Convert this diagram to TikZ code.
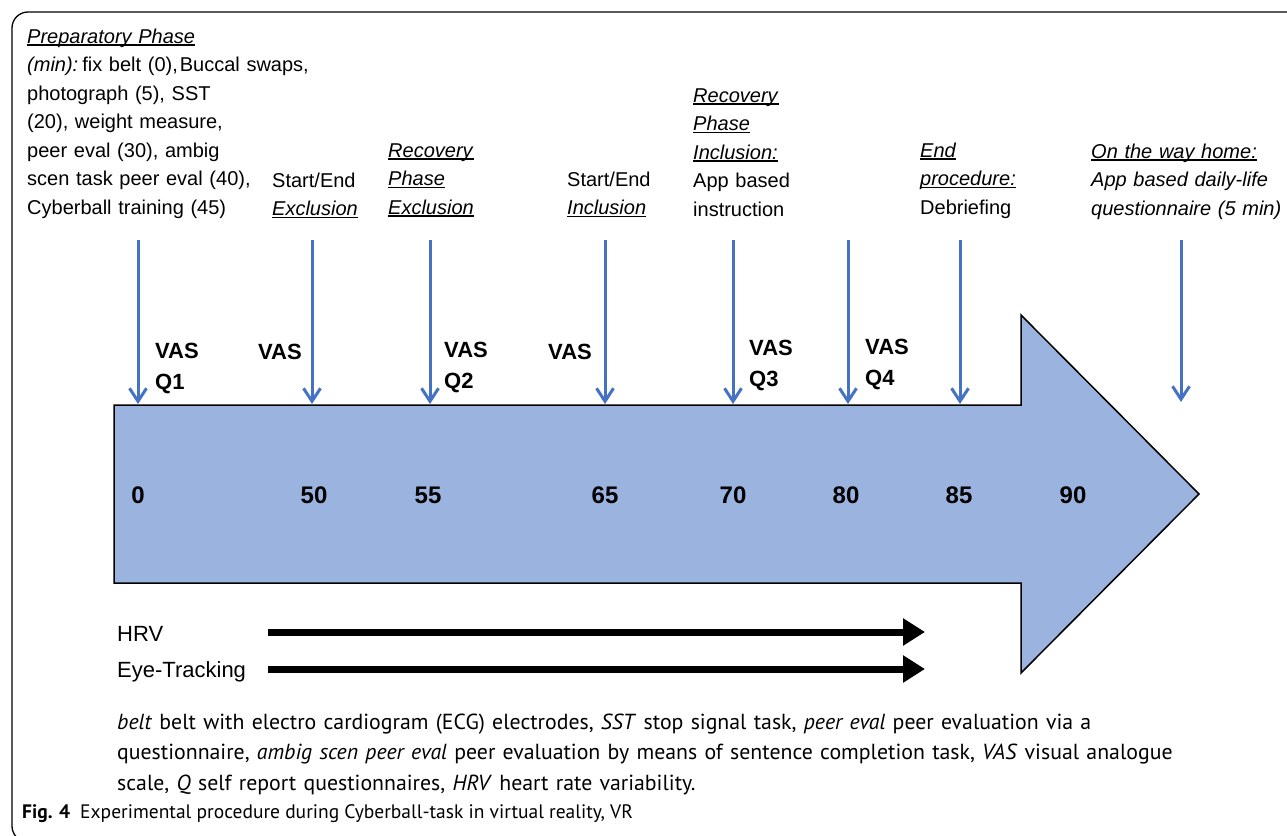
\documentclass[tikz,border=0pt]{standalone}
\usepackage{fontspec}
\setmainfont{Liberation Sans}
\newfontfamily\capfont{PT Sans}
\usetikzlibrary{arrows.meta}
\definecolor{arrowfill}{RGB}{155,179,223}
\definecolor{vblue}{RGB}{68,114,196}
\newcommand\myul[1]{\leavevmode\setbox0\hbox{#1}\rlap{\rule[-2.6pt]{\wd0}{1.3pt}}\box0}
\tikzset{
  toptext/.style={anchor=base west, inner sep=0pt, text width=400pt, align=left, font=\fontsize{20}{28.5}\selectfont},
  vas/.style={anchor=base west, inner sep=0pt, text width=60pt, align=left, font=\fontsize{22}{31}\selectfont\bfseries},
  vasr/.style={anchor=base east, inner sep=0pt, font=\fontsize{22}{31}\selectfont\bfseries},
  num/.style={inner sep=0pt, font=\fontsize{24}{28}\selectfont\bfseries},
  cue/.style={draw=vblue, line width=3pt, -{Straight Barb[length=13pt,width=17pt]}},
  track/.style={line width=7pt, -{Triangle[length=22pt,width=26pt]}},
  lbl/.style={anchor=base west, inner sep=0pt, font=\fontsize{22}{28}\selectfont},
  captext/.style={anchor=base west, inner sep=0pt, text width=1165pt, align=left, font=\capfont\fontsize{21.8}{30.5}\selectfont},
}
\begin{document}
\begin{tikzpicture}[x=1pt,y=-1pt]
\useasboundingbox (0,0) rectangle (1287,835);
% frame
\draw[line width=1.3pt, rounded corners=16pt] (1300,12) -- (12,12) -- (12,842) -- (60,842);
% big arrow
\draw[fill=arrowfill, line width=1.5pt] (114,405) -- (1021,405) -- (1021,315) -- (1199,494) -- (1021,673) -- (1021,583) -- (114,583) -- cycle;
% top texts
\node[toptext] (tA) at (27,43) {\myul{\textit{Preparatory Phase}}\\
\textit{(min):}\hspace{4pt}fix belt (0),\hspace{2pt}Buccal swaps,\\
photograph (5), SST\\
(20), weight measure,\\
peer eval (30), ambig\\
scen task peer eval (40),\\
Cyberball training (45)};
\node[toptext] (tB) at (272,187) {Start/End\\ \myul{\textit{Exclusion}}};
\node[toptext] (tC) at (388,157) {\myul{\textit{Recovery}}\\ \myul{\textit{Phase}}\\ \myul{\textit{Exclusion}}};
\node[toptext] (tD) at (567,186) {Start/End\\ \myul{\textit{Inclusion}}};
\node[toptext] (tE) at (693,102) {\myul{\textit{Recovery}}\\ \myul{\textit{Phase}}\\ \myul{\textit{Inclusion:}}\\ App based\\ instruction};
\node[toptext] (tF) at (920,157) {\myul{\textit{End}}\\ \myul{\textit{procedure:}}\\ Debriefing};
\node[toptext] (tG) at (1091,158) {\myul{\textit{On the way home:}}\\ \textit{App based daily-life}\\ \textit{questionnaire (5 min)}};
% cue arrows
\foreach \i/\x in {1/138,2/312,3/430,4/605,5/733,6/848,7/960} {
  \coordinate (s\i) at (\x,240);
  \coordinate (e\i) at (\x,404);
}
\coordinate (s8) at (1181,240);
\coordinate (e8) at (1181,402);
\foreach \i in {1,...,8} { \draw[cue] (s\i) -- (e\i); }
% VAS labels
\node[vas] (v1) at (155,358) {VAS\\Q1};
\node[vasr] (v2) at (302,359) {VAS};
\node[vas] (v3) at (444,357) {VAS\\Q2};
\node[vasr] (v4) at (592,359) {VAS};
\node[vas] (v5) at (749,355) {VAS\\Q3};
\node[vas] (v6) at (865,354) {VAS\\Q4};
% numbers
\node[num] (n0) at (138,495) {0};
\node[num] (n50) at (314,495) {50};
\node[num] (n55) at (428,495) {55};
\node[num] (n65) at (605,495) {65};
\node[num] (n70) at (733,495) {70};
\node[num] (n80) at (846,495) {80};
\node[num] (n85) at (959,495) {85};
\node[num] (n90) at (1073,495) {90};
% tracks
\node[lbl] (hrv) at (117,641) {HRV};
\node[lbl] (eye) at (117,677) {Eye-Tracking};
\coordinate (h1) at (268,632); \coordinate (h2) at (925,632);
\coordinate (k1) at (268,669); \coordinate (k2) at (925,669);
\draw[track] (h1) -- (h2);
\draw[track] (k1) -- (k2);
% caption
\node[captext] (legend) at (117,729) {\textit{belt} belt with electro cardiogram (ECG) electrodes, \textit{SST} stop signal task, \textit{peer eval} peer evaluation via a\\
\makebox[1133pt][s]{questionnaire, \textit{ambig scen peer eval} peer evaluation by means of sentence completion task, \textit{VAS} visual analogue}\\
scale, \textit{Q} self report questionnaires, \textit{HRV} heart rate variability.};
\node[anchor=base west, inner sep=0pt, font=\capfont\fontsize{19.5}{22}\selectfont] (fig) at (22,818) {\textbf{Fig. 4}\hspace{10pt}Experimental procedure during Cyberball-task in virtual reality, VR};
\end{tikzpicture}
\end{document}
